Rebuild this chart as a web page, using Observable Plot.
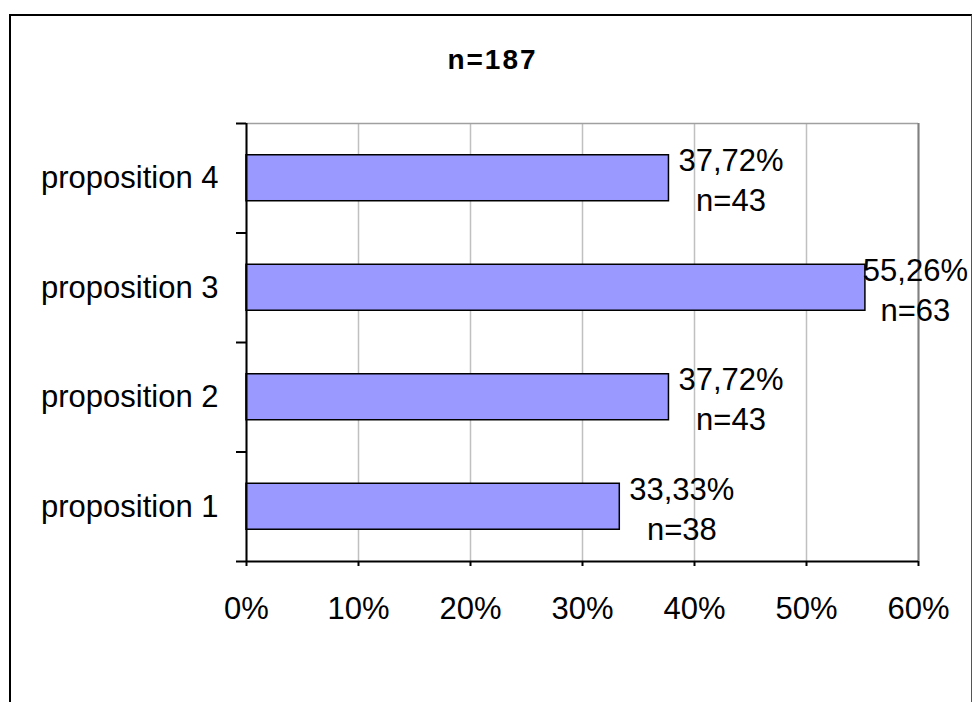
<!DOCTYPE html>
<html>
<head>
<meta charset="utf-8">
<script src="https://cdn.jsdelivr.net/npm/d3@7"></script>
<script src="https://cdn.jsdelivr.net/npm/@observablehq/plot@0.6"></script>
<style>
  html, body { margin: 0; padding: 0; background: #fff; }
  body { width: 972px; height: 702px; position: relative; overflow: hidden; font-family: "Liberation Sans", Arial, sans-serif; }
  #frame { position: absolute; left: 9px; top: 14px; width: 960px; height: 720px; border-left: 2.5px solid #000; border-top: 2px solid #000; border-right: 1.5px solid #555; }
  #title { position: absolute; left: 11px; width: 963px; top: 46px; text-align: center; font-family: "Liberation Sans", Arial, sans-serif; font-weight: bold; font-size: 28px; line-height: 28px; letter-spacing: 2px; color: #000; }
  #chart { position: absolute; left: 0; top: 0; }
</style>
</head>
<body>
<div id="frame"></div>
<div id="title">n=187</div>
<div id="chart"></div>
<script>
const categories = ["proposition 1", "proposition 2", "proposition 3", "proposition 4"];
const percents = [33.33, 37.72, 55.26, 37.72];
const counts = [38, 43, 63, 43];
const xTicks = [0, 0.1, 0.2, 0.3, 0.4, 0.5, 0.6];

const data = categories.map((c, k) => ({
  category: c,
  i: k + 1,
  value: percents[k] / 100,
  label: percents[k].toFixed(2).replace(".", ",") + "%\nn=" + counts[k]
}));
const boundaries = d3.range(categories.length + 1).map(k => k + 0.5);
const nearEdge = d => d.value > 0.5;

const chart = Plot.plot({
  width: 972,
  height: 702,
  marginLeft: 246,
  marginRight: 54,
  marginTop: 123,
  marginBottom: 141,
  x: {domain: [0, 0.6], label: null},
  y: {domain: [0.5, categories.length + 0.5], label: null},
  style: {fontFamily: "'Liberation Sans', Arial, sans-serif", fontSize: "31px", background: "transparent", overflow: "visible", color: "#000"},
  marks: [
    Plot.gridX(xTicks, {stroke: "#c0c0c0", strokeOpacity: 1, strokeWidth: 1.5}),
    Plot.ruleY([categories.length + 0.5], {stroke: "#a0a0a0", strokeWidth: 1.5}),
    Plot.ruleX([0.6], {stroke: "#808080", strokeWidth: 2}),
    Plot.rectX(data, {x: "value", y1: d => d.i - 0.21, y2: d => d.i + 0.21, fill: "#9999FF", stroke: "#000", strokeWidth: 1.5}),
    Plot.axisY({ticks: boundaries, tickSize: 10, tickFormat: () => "", label: null, strokeWidth: 2, stroke: "#000"}),
    Plot.axisY({ticks: data.map(d => d.i), tickSize: 0, tickPadding: 28, label: null, tickFormat: i => categories[i - 1], fontSize: 31}),
    Plot.axisX({ticks: xTicks, tickSize: 5, tickPadding: 30, label: null, tickFormat: d3.format(".0%"), strokeWidth: 2, stroke: "#000", fontSize: 31}),
    Plot.ruleY([0.5], {stroke: "#000", strokeWidth: 2}),
    Plot.ruleX([0], {stroke: "#000", strokeWidth: 2}),
    Plot.text(data.filter(d => !nearEdge(d)), {x: "value", y: "i", text: "label", dx: 62, textAnchor: "middle", lineHeight: 1.3, fontSize: 31, fill: "#000"}),
    Plot.text(data.filter(nearEdge), {x: "value", y: "i", text: "label", dx: 50, textAnchor: "middle", lineHeight: 1.3, fontSize: 31, fill: "#000"})
  ]
});
document.getElementById("chart").appendChild(chart);
</script>
</body>
</html>
